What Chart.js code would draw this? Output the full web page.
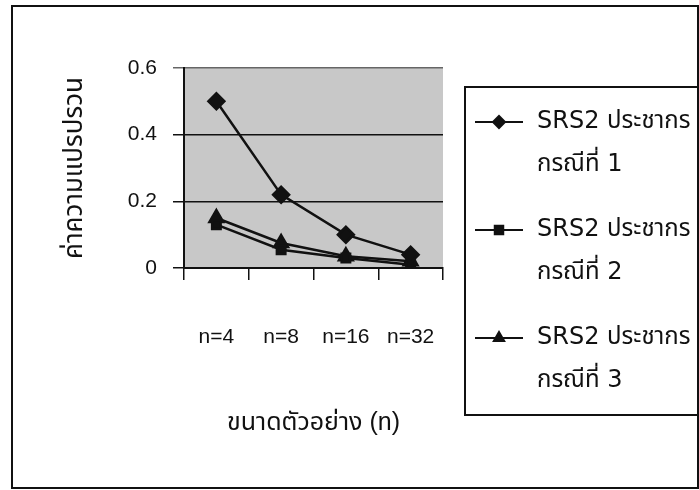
<!DOCTYPE html>
<html lang="th">
<head>
<meta charset="utf-8">
<script src="https://cdn.jsdelivr.net/npm/chart.js@4.4.1/dist/chart.umd.min.js"></script>
<style>
  html, body { margin: 0; padding: 0; background: #fff; }
  #wrap { position: relative; width: 699px; height: 490px; }
</style>
</head>
<body>
<div id="wrap"><canvas id="chart" width="699" height="490"></canvas></div>
<script>
'use strict';

// ---------- data ----------
const categories = ['n=4', 'n=8', 'n=16', 'n=32'];
const case1 = [0.50, 0.22, 0.10, 0.04];
const case2 = [0.13, 0.055, 0.03, 0.01];
const case3 = [0.15, 0.075, 0.035, 0.02];
const seriesNames = [
  ['SRS2 ประชากร', 'กรณีที่ 1'],
  ['SRS2 ประชากร', 'กรณีที่ 2'],
  ['SRS2 ประชากร', 'กรณีที่ 3']
];
const yTicks = [0, 0.2, 0.4, 0.6];
const xTitle = 'ขนาดตัวอย่าง (n)';
const yTitle = 'ค่าความแปรปรวน';

const WIDE = '"DejaVu Sans", "Noto Sans Thai", sans-serif';
const FONT = '"Liberation Sans", Arial, "Noto Sans Thai", sans-serif';
const INK = '#111';

// ---------- plugins ----------
const frame = {
  id: 'frame',
  beforeDraw(chart) {
    const c = chart.ctx, a = chart.chartArea;
    c.save();
    c.fillStyle = '#fff';
    c.fillRect(0, 0, chart.width, chart.height);
    c.fillStyle = '#c8c8c8';
    c.fillRect(a.left, a.top, a.right - a.left, a.bottom - a.top);
    c.strokeStyle = INK; c.lineWidth = 2;
    c.strokeRect(12, 6, 686, 482);
    c.restore();
  }
};

const boxLegend = {
  id: 'boxLegend',
  afterDraw(chart) {
    const c = chart.ctx;
    c.save();
    c.strokeStyle = INK; c.lineWidth = 2;
    c.strokeRect(465, 87, 233, 328);
    chart.data.datasets.forEach((ds, i) => {
      const y = 122 + i * 108;
      c.strokeStyle = INK; c.fillStyle = INK; c.lineWidth = 2;
      c.beginPath(); c.moveTo(475, y); c.lineTo(523, y); c.stroke();
      Chart.helpers.drawPoint(c, { pointStyle: ds.pointStyle, radius: 6, borderWidth: 1, rotation: 0 }, 499, y);
      c.font = '24px ' + WIDE; c.textAlign = 'left'; c.textBaseline = 'middle';
      ds.label.forEach((t, k) => c.fillText(t, 537, y + k * 43));
    });
    c.restore();
  }
};

// ---------- chart ----------
const mkSet = (label, data, style, r) => ({
  label, data, pointStyle: style, pointRadius: r, pointHoverRadius: r,
  borderColor: INK, backgroundColor: INK, pointBackgroundColor: INK,
  borderWidth: 2.5, tension: 0, fill: false
});

new Chart(document.getElementById('chart'), {
  type: 'line',
  data: {
    labels: categories,
    datasets: [
      mkSet(seriesNames[0], case1, 'rectRot', 8),
      mkSet(seriesNames[1], case2, 'rect', 6),
      mkSet(seriesNames[2], case3, 'triangle', 8)
    ]
  },
  options: {
    responsive: false,
    animation: false,
    layout: { padding: { top: 68, right: 256, left: 0, bottom: 0 } },
    plugins: { legend: { display: false }, tooltip: { enabled: false } },
    scales: {
      x: {
        offset: true,
        afterFit(s) { s.height = 222; },
        grid: { offset: true, drawOnChartArea: false, tickLength: 12, color: INK, lineWidth: 1.5 },
        border: { display: true, color: INK, width: 2 },
        ticks: { color: INK, padding: 45, font: { family: FONT, size: 21 } },
        title: { display: true, text: xTitle, color: INK, padding: { bottom: 52, top: 0 },
          font: { family: FONT, size: 25 } }
      },
      y: {
        min: 0, max: 0.6,
        afterFit(s) { s.width = 184; },
        afterBuildTicks(s) { s.ticks = yTicks.map(v => ({ value: v })); },
        grid: {
          tickLength: 11, lineWidth: 1.5,
          color: (ctx) => (ctx.tick && ctx.tick.value === 0.6) ? '#666' : INK
        },
        border: { display: true, color: INK, width: 2 },
        ticks: { color: INK, padding: 16, font: { family: FONT, size: 21 },
          callback: (v) => v === 0 ? '0' : v.toFixed(1) },
        title: { display: true, text: yTitle, color: INK, padding: { top: 59, bottom: 0 },
          font: { family: FONT, size: 26 } }
      }
    }
  },
  plugins: [frame, boxLegend]
});
</script>
</body>
</html>
